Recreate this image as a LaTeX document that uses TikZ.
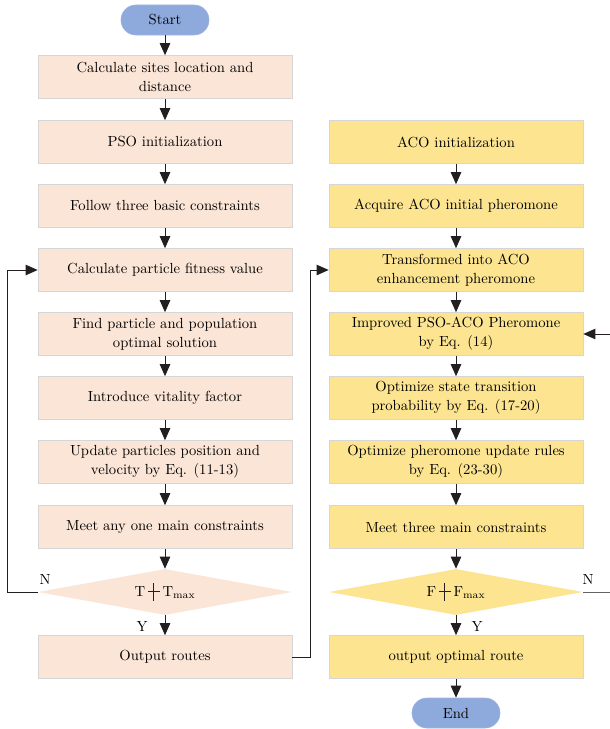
\documentclass[tikz,border=0pt]{standalone}
\usetikzlibrary{shapes.geometric,arrows,arrows.meta,positioning}
\definecolor{peach}{RGB}{251,229,214}
\definecolor{sand}{RGB}{252,228,145}
\definecolor{sky}{RGB}{142,169,219}
\definecolor{rim}{RGB}{214,214,214}
\definecolor{ink}{RGB}{35,31,32}
\newcommand{\flowfont}{\fontsize{10.4}{13.6}\selectfont}
\newcommand{\crossbar}{\tikz[baseline=0pt, x=1cm, y=1cm, line width=0.8pt]{\draw[ink] (-0.9ex,0.75ex)--(0.9ex,0.75ex) (0,-0.8ex)--(0,2.1ex);}}
\tikzset
{
    psobox/.style  = {rectangle, draw=rim, fill=peach, align=center, minimum width=6.35cm, minimum height=1.075cm, font=\flowfont},
    acobox/.style  = {psobox, fill=sand},
    terminal/.style = {rectangle, rounded corners=0.37cm, draw=sky!85!white, fill=sky, minimum width=2.2cm, minimum height=0.75cm, font=\flowfont},
    psotest/.style = {diamond, aspect=5, fill=peach, minimum width=6.35cm, minimum height=1.15cm, inner sep=0pt, font=\flowfont},
    acotest/.style = {psotest, fill=sand},
    flow/.style    = {draw=ink, line width=0.7pt, -{Triangle[width=2.6mm,length=3mm]}}
}

\begin{document}
\begin{tikzpicture}[x=0.025cm, y=-0.025cm]
\useasboundingbox (0,0) rectangle (610,729);
% left column
\node [terminal] at (165,20) (start) {Start};
\node [psobox] at (165,77) (sites) {Calculate sites location and\\distance};
\node [psobox] at (165,142) (psoinit) {PSO initialization};
\node [psobox] at (165,206) (basic) {Follow three basic constraints};
\node [psobox] at (165,270) (fitness) {Calculate particle fitness value};
\node [psobox] at (165,334) (optimal) {Find particle and population\\optimal solution};
\node [psobox] at (165,398) (vitality) {Introduce vitality factor};
\node [psobox] at (165,462) (update) {Update particles position and\\velocity by Eq. (11-13)};
\node [psobox] at (165,527) (meetone) {Meet any one main constraints};
\node [psotest] at (165,592) (ttest) {T\,\crossbar\,T\textsubscript{max}};
\node [psobox] at (165,657) (routes) {Output routes};
% right column
\node [acobox] at (456,142) (acoinit) {ACO initialization};
\node [acobox] at (456,206) (initpher) {Acquire ACO initial pheromone};
\node [acobox] at (456,270) (enhance) {Transformed into ACO\\enhancement pheromone};
\node [acobox] at (456,334) (improved) {Improved PSO-ACO Pheromone\\by Eq. (14)};
\node [acobox] at (456,398) (transit) {Optimize state transition\\probability by Eq. (17-20)};
\node [acobox] at (456,462) (rules) {Optimize pheromone update rules\\by Eq. (23-30)};
\node [acobox] at (456,527) (meetthree) {Meet three main constraints};
\node [acotest] at (456,592) (ftest) {F\,\crossbar\,F\textsubscript{max}};
\node [acobox] at (456,657) (best) {output optimal route};
\node [terminal] at (456,713) (stop) {End};
\coordinate (nend) at (610,592);
\coordinate (back) at (610,334);
% labels
\node [font=\flowfont] at (45,579) (ln) {N};
\node [font=\flowfont] at (142,626) (ly) {Y};
\node [font=\flowfont] at (588,579) (rn) {N};
\node [font=\flowfont] at (477,626) (ry) {Y};
% connectors
\draw [flow] (start) -- (sites);
\draw [flow] (sites) -- (psoinit);
\draw [flow] (psoinit) -- (basic);
\draw [flow] (basic) -- (fitness);
\draw [flow] (fitness) -- (optimal);
\draw [flow] (optimal) -- (vitality);
\draw [flow] (vitality) -- (update);
\draw [flow] (update) -- (meetone);
\draw [flow] (meetone) -- (ttest);
\draw [flow] (ttest) -- (routes);
\draw [flow] (ttest.west) -- ++(-30,0) |- (fitness.west);
\draw [flow] (routes.east) -- ++(18,0) |- (enhance.west);
\draw [flow] (acoinit) -- (initpher);
\draw [flow] (initpher) -- (enhance);
\draw [flow] (enhance) -- (improved);
\draw [flow] (improved) -- (transit);
\draw [flow] (transit) -- (rules);
\draw [flow] (rules) -- (meetthree);
\draw [flow] (meetthree) -- (ftest);
\draw [flow] (ftest) -- (best);
\draw [flow] (best) -- (stop);
\draw [draw=ink!70, line width=0.7pt] (ftest.east) -- (nend);
\draw [flow] (back) -- (improved.east);
\end{tikzpicture}
\end{document}
